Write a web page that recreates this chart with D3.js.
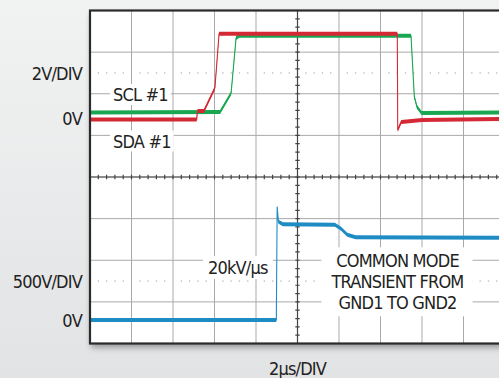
<!DOCTYPE html>
<html>
<head>
<meta charset="utf-8">
<script src="https://cdn.jsdelivr.net/npm/d3@7"></script>
<style>
  html, body { margin: 0; padding: 0; overflow: hidden; }
  body { width: 499px; height: 378px; background: linear-gradient(#f1f2f2, #e2e3e4); }
  text { font-family: "Liberation Sans Narrow", "DejaVu Sans Condensed", sans-serif; font-size: 18px; letter-spacing: -0.8px; fill: #222; }
</style>
</head>
<body>
<div id="scope"></div>
<script>
// time in µs from the left edge of the screen (2µs/DIV, 10 divisions)
const sclTime = [0, 6.27, 6.80, 7.04, 7.2, 15.47, 15.63, 15.76, 15.98, 20];
const sclVolt = [0.24, 0.26, 1.17, 3.82, 3.93, 3.93, 1.0, 0.5, 0.22, 0.24];

const sdaTime = [0, 5.14, 5.18, 5.49, 6.02, 6.22, 6.4, 14.81, 14.83, 15.0, 16.0, 20];
const sdaVolt = [-0.1, -0.1, 0.31, 0.31, 1.42, 4.02, 4.02, 4.02, -0.6, -0.22, -0.12, -0.07];

// common mode voltage GND1 -> GND2 (V)
const cmTime = [0, 8.98, 9.02, 9.08, 9.3, 11.8, 12.1, 12.4, 12.8, 20];
const cmVolt = [0, 0, 1361, 1180, 1150, 1145, 1096, 1024, 994, 988];

const leftLabels = ["2V/DIV", "0V", "500V/DIV", "0V"];
const traceLabels = ["SCL #1", "SDA #1"];
const slewLabel = "20kV/µs";
const noteLines = ["COMMON MODE", "TRANSIENT FROM", "GND1 TO GND2"];
const timeLabel = "2µs/DIV";

const svgWidth = 499;
const svgHeight = 378;

// screen area
const box = { left: 90, top: 10.5, width: 415, height: 333 };
const div = box.height / 8;

const svg = d3.select("#scope").append("svg")
  .attr("width", svgWidth)
  .attr("height", svgHeight)
  .style("display", "block");

const defs = svg.append("defs");
const shadow = defs.append("filter").attr("id", "shadow")
  .attr("x", "-10%").attr("y", "-10%").attr("width", "130%").attr("height", "130%");
shadow.append("feDropShadow")
  .attr("dx", 1).attr("dy", 4).attr("stdDeviation", 3)
  .attr("flood-color", "#000").attr("flood-opacity", 0.35);
defs.append("clipPath").attr("id", "screen").append("rect")
  .attr("x", box.left).attr("y", box.top)
  .attr("width", box.width).attr("height", box.height);

// scales
const xScale = d3.scaleLinear().domain([0, 20]).range([box.left, box.left + box.width]);
const yTop = d3.scaleLinear().domain([0, 2]).range([117.5, 117.5 - div]);
const yBot = d3.scaleLinear().domain([0, 500]).range([320, 320 - div]);

// screen background
svg.append("rect")
  .attr("x", box.left).attr("y", box.top)
  .attr("width", box.width).attr("height", box.height)
  .attr("fill", "#fff")
  .attr("filter", "url(#shadow)");

const grid = svg.append("g").attr("clip-path", "url(#screen)");

// vertical grid lines every 2µs
grid.selectAll(".vgrid")
  .data(d3.range(2, 20, 2))
  .enter().append("line")
  .attr("x1", d => xScale(d)).attr("x2", d => xScale(d))
  .attr("y1", box.top).attr("y2", box.top + box.height)
  .attr("stroke", "#a9a9a9").attr("stroke-width", 1);

// horizontal grid lines
grid.selectAll(".hgrid")
  .data(d3.range(1, 8))
  .enter().append("line")
  .attr("x1", box.left).attr("x2", box.left + box.width)
  .attr("y1", d => box.top + d * div).attr("y2", d => box.top + d * div)
  .attr("stroke", "#a9a9a9").attr("stroke-width", 1);

// dotted reference rows
const minor = [];
d3.range(10).forEach(d => [1, 2, 3, 4].forEach(k => minor.push(d * 2 + k * 0.4)));
[1.5, 6.5].forEach(row => {
  grid.selectAll(null)
    .data(minor)
    .enter().append("rect")
    .attr("x", d => xScale(d) - 0.6)
    .attr("y", box.top + row * div - 0.6)
    .attr("width", 1.3).attr("height", 1.3)
    .attr("fill", "#b5b5b5");
});

// center axes with ticks
const cx = xScale(10);
const cy = box.top + 4 * div;
grid.append("line")
  .attr("x1", box.left).attr("x2", box.left + box.width)
  .attr("y1", cy).attr("y2", cy)
  .attr("stroke", "#444").attr("stroke-width", 1.2);
grid.append("line")
  .attr("x1", cx).attr("x2", cx)
  .attr("y1", box.top).attr("y2", box.top + box.height)
  .attr("stroke", "#444").attr("stroke-width", 1.2);
grid.selectAll(".xtick")
  .data(d3.range(0, 20.01, 0.4))
  .enter().append("line")
  .attr("x1", d => xScale(d)).attr("x2", d => xScale(d))
  .attr("y1", cy - 2.2).attr("y2", cy + 2.2)
  .attr("stroke", "#444").attr("stroke-width", 1.2);
grid.selectAll(".ytick")
  .data(d3.range(0, 40))
  .enter().append("line")
  .attr("x1", cx - 2.2).attr("x2", cx + 2.2)
  .attr("y1", d => box.top + d * div / 5).attr("y2", d => box.top + d * div / 5)
  .attr("stroke", "#444").attr("stroke-width", 1.2);

// white label boxes sitting on the graticule
function labelBox(g, textSel, padX, padY) {
  const b = textSel.node().getBBox();
  g.insert("rect", "text")
    .attr("x", b.x - padX).attr("y", b.y - padY)
    .attr("width", b.width + 2 * padX).attr("height", b.height + 2 * padY)
    .attr("fill", "#fff");
}

const labels = svg.append("g");

const scl = labels.append("g");
labelBox(scl, scl.append("text").attr("x", 113).attr("y", 101).text(traceLabels[0]), 3, 0);
const sda = labels.append("g");
labelBox(sda, sda.append("text").attr("x", 113).attr("y", 147.5).text(traceLabels[1]), 3, 0);
const slew = labels.append("g");
labelBox(slew, slew.append("text").attr("x", 208).attr("y", 274).text(slewLabel), 5, 1);

const note = labels.append("g");
const noteText = note.append("text").attr("text-anchor", "middle");
noteLines.forEach((l, i) => {
  noteText.append("tspan").attr("x", 397.5).attr("y", 267.3 + i * 21).text(l);
});
labelBox(note, noteText, 9, 3);

// traces
const traces = svg.append("g").attr("clip-path", "url(#screen)");

function drawTrace(time, volt, y, color) {
  const pts = time.map((t, i) => ({ t: t, v: volt[i] }));
  const band = d3.area()
    .x(d => xScale(d.t))
    .y0(d => y(d.v) - 2)
    .y1(d => y(d.v) + 2);
  const line = d3.line()
    .x(d => xScale(d.t))
    .y(d => y(d.v));
  traces.append("path").attr("d", band(pts)).attr("fill", color);
  traces.append("path").attr("d", line(pts))
    .attr("fill", "none").attr("stroke", color).attr("stroke-width", 1.1);
}

drawTrace(sclTime, sclVolt, yTop, "#1aa752");
drawTrace(sdaTime, sdaVolt, yTop, "#d42a36");
drawTrace(cmTime, cmVolt, yBot, "#1f8cc4");

// screen frame
svg.append("rect")
  .attr("x", box.left).attr("y", box.top)
  .attr("width", box.width).attr("height", box.height)
  .attr("fill", "none")
  .attr("stroke", "#2b2b2b").attr("stroke-width", 2.2);

// outside labels
const leftY = [box.top + 1.5 * div + 7, yTop(0) + 7.5, box.top + 6.5 * div + 7, yBot(0) + 6.5];
svg.selectAll(".left")
  .data(leftLabels)
  .enter().append("text")
  .attr("x", 82)
  .attr("y", (d, i) => leftY[i])
  .attr("text-anchor", "end")
  .text(d => d);

svg.append("text")
  .attr("x", cx)
  .attr("y", 375)
  .attr("text-anchor", "middle")
  .text(timeLabel);
</script>
</body>
</html>
